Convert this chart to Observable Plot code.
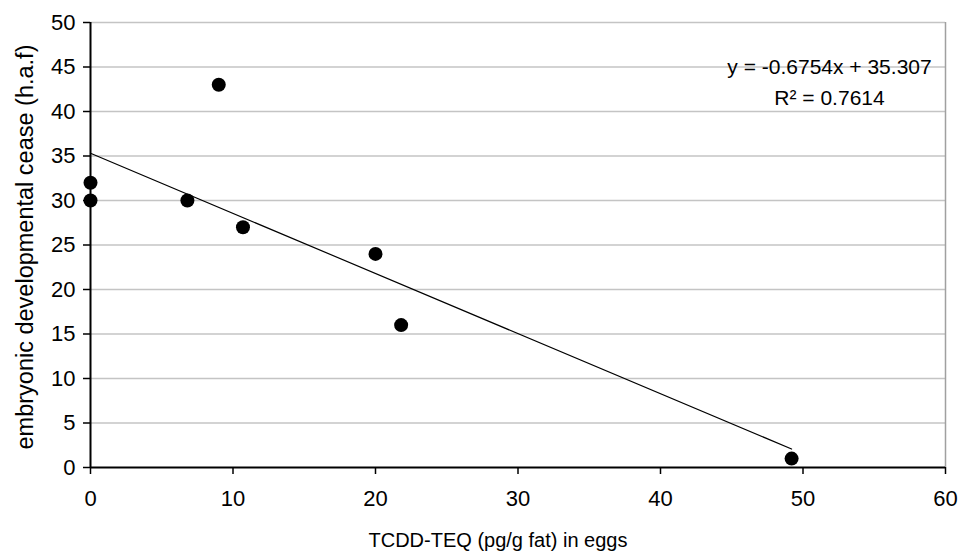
<!DOCTYPE html>
<html>
<head>
<meta charset="utf-8">
<script src="https://cdn.jsdelivr.net/npm/d3@7"></script>
<script src="https://cdn.jsdelivr.net/npm/@observablehq/plot@0.6"></script>
<style>
  html, body { margin: 0; padding: 0; background: #fff; }
  #chart svg { display: block; }
</style>
</head>
<body>
<div id="chart"></div>
<script>
// Data
const teq = [0, 0, 6.8, 9, 10.7, 20, 21.8, 49.2];          // TCDD-TEQ (pg/g fat) in eggs
const cease = [32, 30, 30, 43, 27, 24, 16, 1];               // embryonic developmental cease (h.a.f)
const xTicks = [0, 10, 20, 30, 40, 50, 60];
const yTicks = [0, 5, 10, 15, 20, 25, 30, 35, 40, 45, 50];
const slope = -0.6754;
const intercept = 35.307;
const rSquared = 0.7614;
const xTitle = "TCDD-TEQ (pg/g fat) in eggs";
const yTitle = "embryonic developmental cease (h.a.f)";

const points = teq.map((x, i) => ({x, y: cease[i]}));
const xMin = d3.min(teq), xMax = d3.max(teq);
const trend = [xMin, xMax].map(x => ({x, y: slope * x + intercept}));
const eqLines = [
  `y = ${slope}x + ${intercept}`,
  `R\u00B2 = ${rSquared}`
];

const chart = Plot.plot({
  width: 961,
  height: 554,
  marginLeft: 90,
  marginRight: 16,
  marginTop: 22,
  marginBottom: 87,
  x: {domain: [0, 60]},
  y: {domain: [0, 50]},
  style: {fontFamily: "'Liberation Sans', Arial, sans-serif", color: "#000", background: "#fff"},
  marks: [
    Plot.ruleY(yTicks.filter(d => d > 0), {stroke: "#c4c4c4", strokeWidth: 1.5}),
    Plot.ruleX([60], {stroke: "#a0a0a0", strokeWidth: 1.5}),
    Plot.line(trend, {x: "x", y: "y", stroke: "#000", strokeWidth: 1.2}),
    Plot.dot(points, {x: "x", y: "y", r: 7, fill: "#000", stroke: null}),
    Plot.ruleX([0], {stroke: "#000", strokeWidth: 2}),
    Plot.ruleY([0], {stroke: "#000", strokeWidth: 2}),
    Plot.axisX(xTicks, {tickSize: 7, tickPadding: 16, fontSize: 22, strokeWidth: 1.5, label: null, tickFormat: d => d}),
    Plot.axisY(yTicks, {tickSize: 7, tickPadding: 8, fontSize: 22, strokeWidth: 1.5, label: null, tickFormat: d => d}),
    Plot.text([xTitle], {frameAnchor: "bottom", dx: -20, dy: 73, fontSize: 20, textAnchor: "middle", text: d => d, lineAnchor: "middle"}),
    Plot.text([yTitle], {frameAnchor: "left", dx: -65, dy: 2, rotate: -90, fontSize: 23.5, textAnchor: "middle", text: d => d, lineAnchor: "middle"}),
    Plot.text([eqLines[0]], {frameAnchor: "top-right", dx: -116, dy: 45, fontSize: 21, textAnchor: "middle", lineAnchor: "middle", text: d => d}),
    Plot.text([eqLines[1]], {frameAnchor: "top-right", dx: -116, dy: 76, fontSize: 21, textAnchor: "middle", lineAnchor: "middle", text: d => d})
  ]
});
document.getElementById("chart").append(chart);
</script>
</body>
</html>
